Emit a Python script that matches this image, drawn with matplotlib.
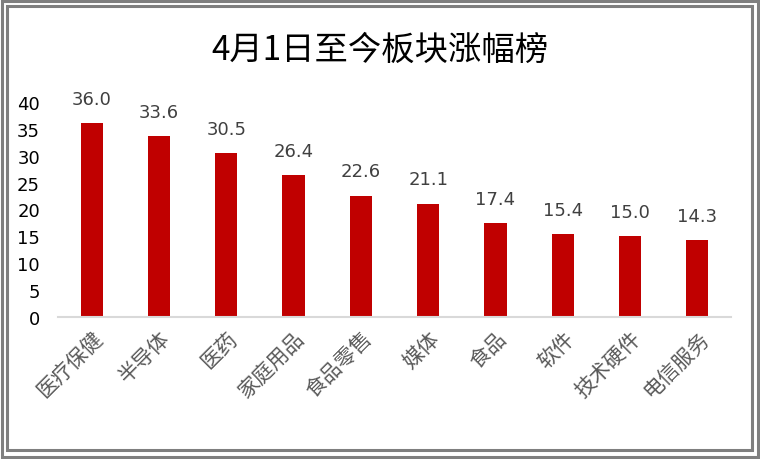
import matplotlib
matplotlib.use("Agg")
import matplotlib.pyplot as plt
from matplotlib.patches import Rectangle

plt.rcParams['font.family'] = ['Noto Sans CJK SC', 'DejaVu Sans']

categories = ["医疗保健", "半导体", "医药", "家庭用品", "食品零售", "媒体", "食品", "软件", "技术硬件", "电信服务"]
values = [36.0, 33.6, 30.5, 26.4, 22.6, 21.1, 17.4, 15.4, 15.0, 14.3]
yticks = [0, 5, 10, 15, 20, 25, 30, 35, 40]
title = "4月1日至今板块涨幅榜"

W, H = 760, 460
fig = plt.figure(figsize=(W / 100, H / 100), dpi=100)

# double frame
def frame(x0, y0, x1, y1, color, lw):
    fig.add_artist(Rectangle((x0 / W, 1 - y1 / H), (x1 - x0) / W, (y1 - y0) / H,
                             transform=fig.transFigure, fill=False,
                             edgecolor=color, linewidth=lw))
frame(1.5, 1.5, 757.5, 457.5, '#7f7f7f', 2.2)
frame(6.5, 6.5, 751.5, 450.5, '#7f7f7f', 2.2)

ax = fig.add_axes([58 / W, 1 - 318 / H, (731 - 58) / W, (318 - 103) / H])
x = list(range(len(categories)))
bars = ax.bar(x, values, width=0.33, color='#c00000', zorder=2)
ax.set_xlim(-0.5, len(categories) - 0.5)
ax.set_ylim(0, 40)
ax.set_yticks(yticks)
ax.set_yticklabels([str(v) for v in yticks], fontsize=13, color='#000000', family='DejaVu Sans')
ax.tick_params(axis='y', length=0, pad=13)
ax.set_xticks(x)
ax.set_xticklabels(categories, rotation=45, ha='right', va='top', rotation_mode='anchor',
                   fontsize=15, color='#595959')
ax.tick_params(axis='x', length=0, pad=7)
for s in ['top', 'right', 'left']:
    ax.spines[s].set_visible(False)
ax.spines['bottom'].set_color('#d9d9d9')
ax.spines['bottom'].set_linewidth(1.5)

for xi, v in zip(x, values):
    ax.annotate(f"{v:.1f}", (xi, v), xytext=(0, 11), textcoords='offset points',
                ha='center', va='bottom', fontsize=13, color='#404040', family='DejaVu Sans')

fig.text(380 / W, 1 - 50 / H, title, ha='center', va='center', fontsize=24, color='#000000')

fig.savefig('out.png', dpi=100)
